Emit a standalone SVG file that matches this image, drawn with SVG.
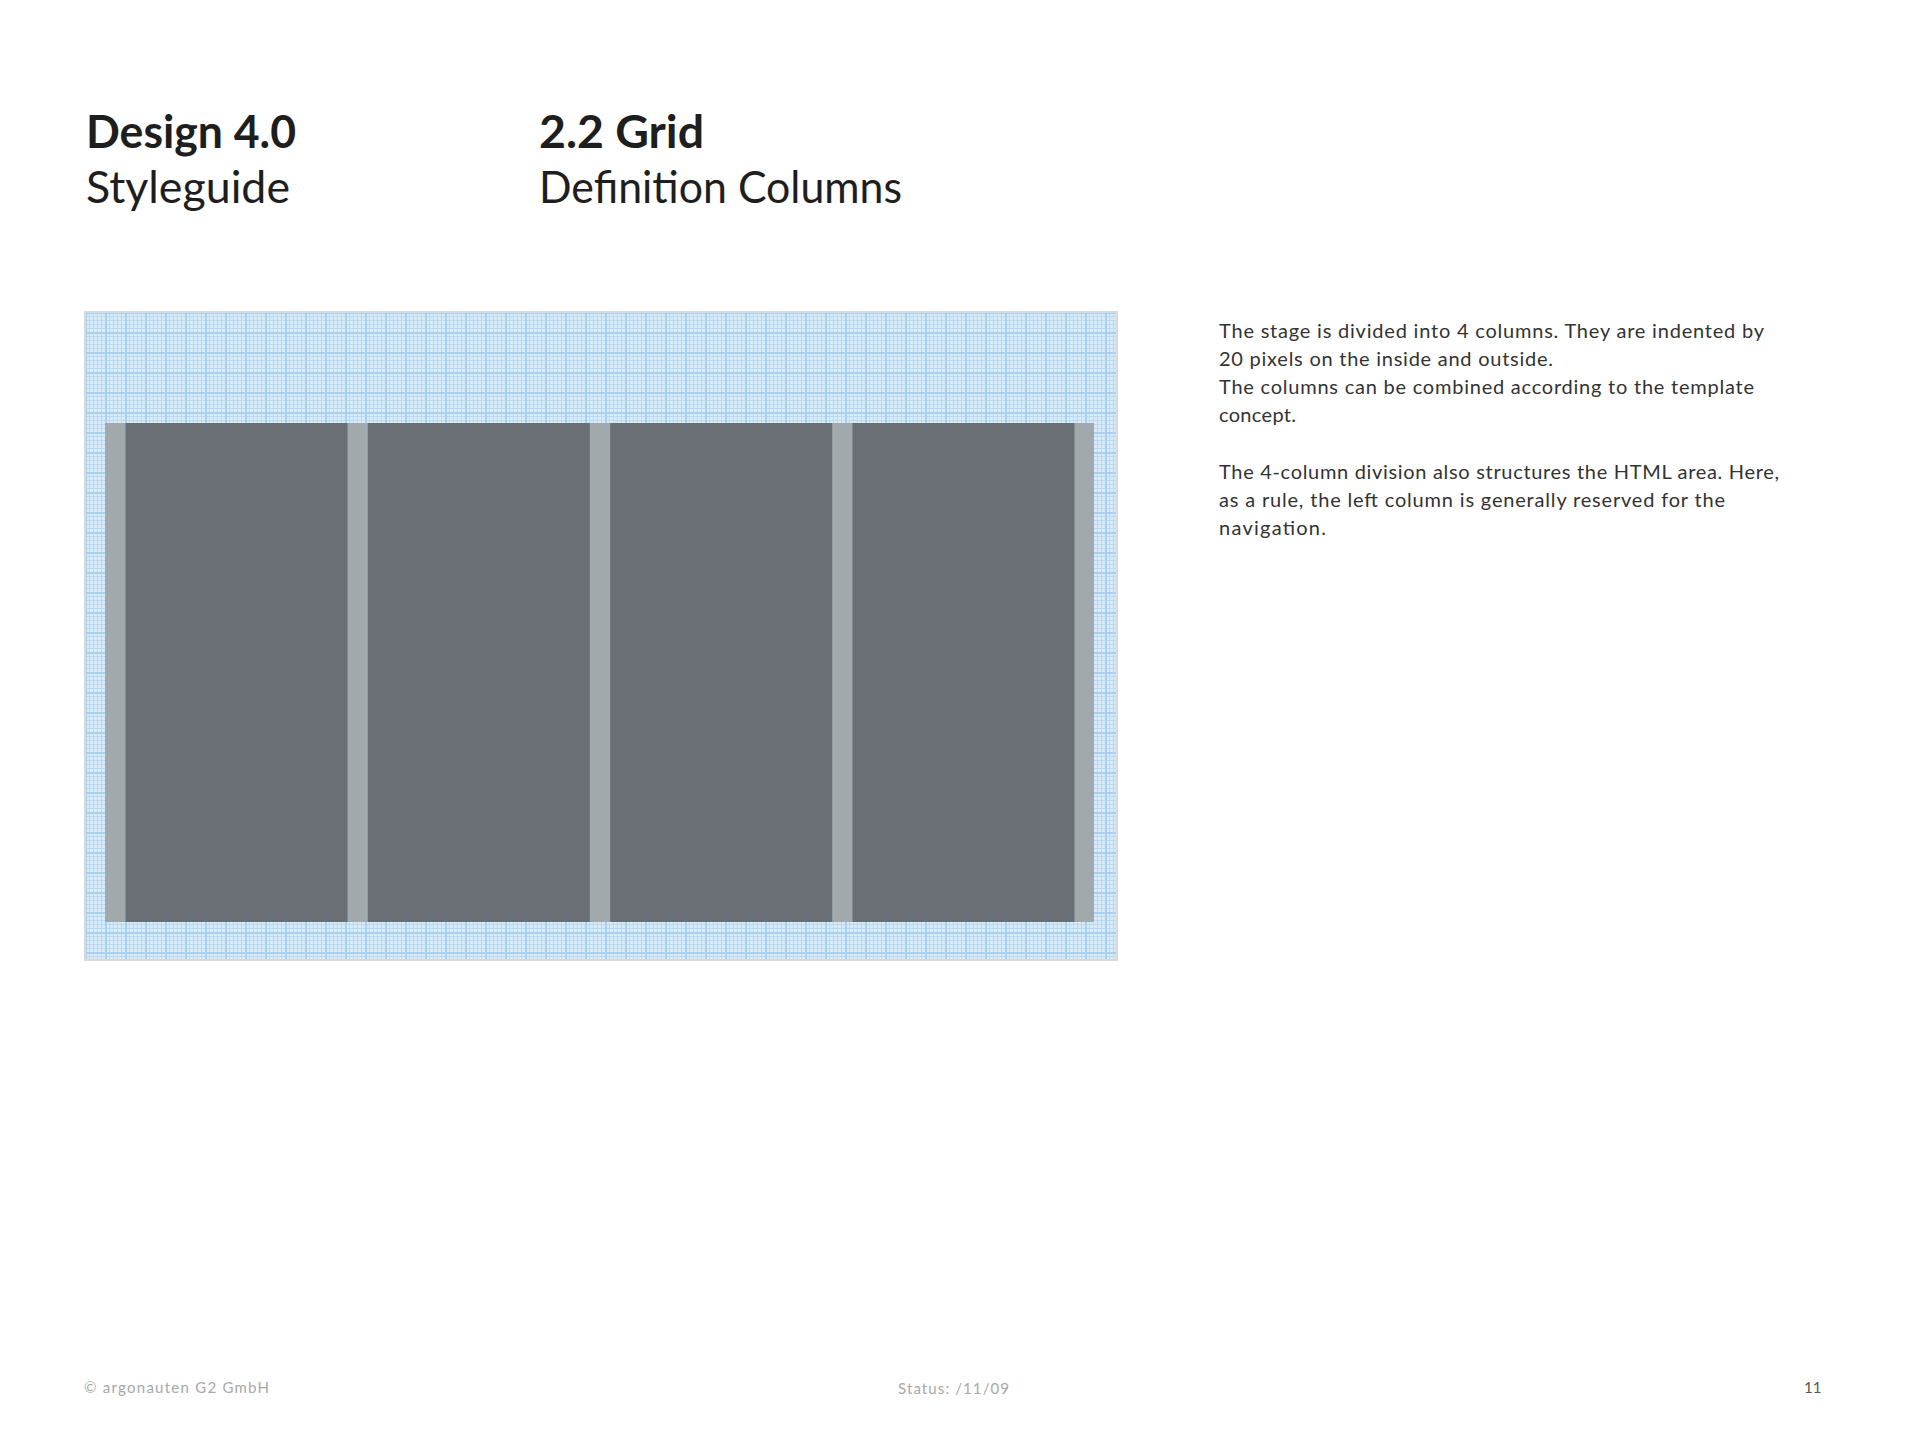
<svg xmlns="http://www.w3.org/2000/svg" width="1920" height="1440" viewBox="0 0 1920 1440">
<style>
.h{font-family:Lato,"Liberation Sans",sans-serif;font-size:45px;fill:#1e1e1e}
.hb{font-weight:bold}
.b{font-family:Lato,"Liberation Sans",sans-serif;font-size:20px;fill:#333}
.f{font-family:Lato,"Liberation Sans",sans-serif;font-size:15px;fill:#a8a8a8}
.col{fill:#6a6f76}
</style>
<defs>
<pattern id="grid" x="85" y="312" width="20" height="20" patternUnits="userSpaceOnUse">
<rect width="20" height="20" fill="#d8ebf9"/>
<path d="M0 0.5H20M0 4.5H20M0 8.5H20M0 12.5H20M0 16.5H20M0.5 0V20M4.5 0V20M8.5 0V20M12.5 0V20M16.5 0V20" stroke="#b9daf2" stroke-width="1"/>
<path d="M0 1H20M1 0V20" stroke="#a9d0ee" stroke-width="2"/>
</pattern>
</defs>
<rect width="1920" height="1440" fill="#fff"/>
<g id="title">
<text class="h hb" x="86" y="148" textLength="210" lengthAdjust="spacingAndGlyphs">Design 4.0</text>
<text class="h" x="86" y="203" textLength="204" lengthAdjust="spacingAndGlyphs">Styleguide</text>
<text class="h hb" x="539" y="148" textLength="165" lengthAdjust="spacingAndGlyphs">2.2 Grid</text>
<text class="h" x="539" y="203" textLength="363" lengthAdjust="spacingAndGlyphs">Definition Columns</text>
</g>
<g id="stage">
<rect x="85" y="312" width="1032" height="648" fill="url(#grid)" stroke="#d6dadd" stroke-width="2"/>
<rect x="105" y="423" width="989" height="499" fill="#a2a9ad"/>
<rect class="col" x="125.5" y="423" width="222" height="499"/>
<rect class="col" x="367.8" y="423" width="222" height="499"/>
<rect class="col" x="610.2" y="423" width="222" height="499"/>
<rect class="col" x="852.5" y="423" width="222" height="499"/>
</g>
<g id="description">
<text class="b" x="1219" y="338" textLength="545" lengthAdjust="spacing">The stage is divided into 4 columns. They are indented by</text>
<text class="b" x="1219" y="366" textLength="334" lengthAdjust="spacing">20 pixels on the inside and outside.</text>
<text class="b" x="1219" y="394" textLength="535" lengthAdjust="spacing">The columns can be combined according to the template</text>
<text class="b" x="1219" y="422" textLength="77" lengthAdjust="spacing">concept.</text>
<text class="b" x="1219" y="479" textLength="560" lengthAdjust="spacing">The 4-column division also structures the HTML area. Here,</text>
<text class="b" x="1219" y="507" textLength="506" lengthAdjust="spacing">as a rule, the left column is generally reserved for the</text>
<text class="b" x="1219" y="535" textLength="107" lengthAdjust="spacing">navigation.</text>
</g>
<g id="footer">
<text class="f" x="84" y="1393" textLength="185" lengthAdjust="spacing">© argonauten G2 GmbH</text>
<text class="f" x="898" y="1394" textLength="111" lengthAdjust="spacing">Status:  /11/09</text>
<text class="f" x="1804" y="1393" style="fill:#555">11</text>
</g>
</svg>
